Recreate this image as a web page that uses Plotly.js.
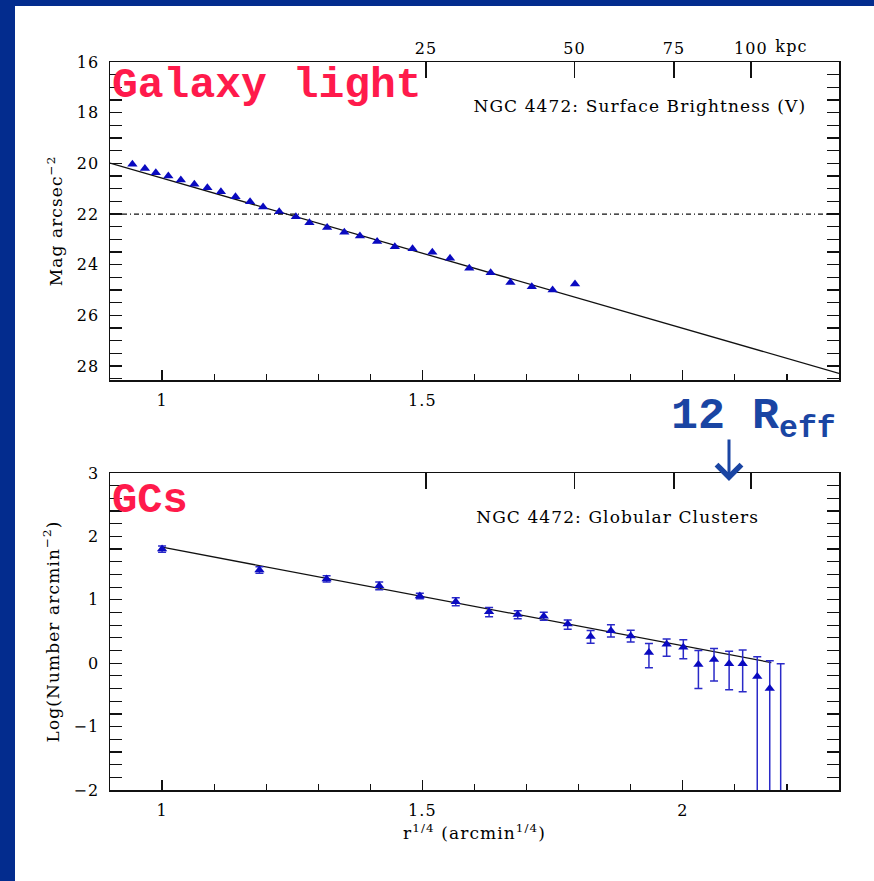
<!DOCTYPE html>
<html>
<head>
<meta charset="utf-8">
<script src="https://cdn.plot.ly/plotly-3.0.1.min.js"></script>
<style>
  html, body { margin: 0; padding: 0; background: #ffffff; }
  #chart { width: 874px; height: 881px; }
  #chart text[style*="Serif"] { letter-spacing: 1.1px; }
</style>
</head>
<body>
<div id="chart"></div>
<script>
// ---------------- data ----------------
// Galaxy light: V surface brightness vs r^(1/4)
const lightR  = [0.943,0.967,0.988,1.012,1.036,1.062,1.087,1.113,1.141,1.169,1.194,1.225,1.257,1.283,
                 1.317,1.350,1.380,1.413,1.447,1.481,1.519,1.553,1.590,1.631,1.669,1.710,1.750,1.793];
const lightMu = [20.04,20.20,20.37,20.50,20.66,20.82,20.96,21.12,21.32,21.52,21.72,21.91,22.11,22.34,
                 22.53,22.72,22.87,23.08,23.29,23.37,23.51,23.75,24.14,24.32,24.70,24.87,25.00,24.76];
const lightFitR  = [0.9, 2.3];
const lightFitMu = [19.99, 28.29];
const refLevel = 22;

// Globular clusters: log surface density vs r^(1/4)
const gcR     = [1.000,1.187,1.316,1.417,1.495,1.564,1.628,1.683,1.733,1.779,1.823,1.862,1.900,1.935,
                 1.969,2.001,2.030,2.060,2.089,2.115,2.143,2.167,2.188];
const gcLogN  = [1.80,1.47,1.33,1.22,1.06,0.97,0.81,0.77,0.74,0.62,0.42,0.51,0.43,0.17,
                 0.30,0.25,-0.02,0.06,-0.01,-0.01,-0.21,-0.40,-2.6];
const gcErrUp = [0.05,0.05,0.05,0.06,0.045,0.063,0.068,0.058,0.063,0.063,0.095,0.095,0.09,0.14,
                 0.08,0.12,0.22,0.17,0.20,0.22,0.31,0.44,2.59];
const gcErrDn = [0.05,0.05,0.05,0.06,0.045,0.063,0.079,0.068,0.063,0.084,0.105,0.095,0.095,0.24,
                 0.19,0.18,0.38,0.34,0.41,0.44,3.0,3.0,3.0];
const gcFitR    = [1.0, 2.17];
const gcFitLogN = [1.83, 0.01];

// Top (physical) axis in kpc
const kpcTicks = [25, 50, 75, 100];
const kpcTickText = ['25', '50', '75', '100'];
const kpcPerArcmin = 4.85;

// ---------------- helpers ----------------
const W = 874, H = 881;
const px = v => v / W;
const py = v => 1 - v / H;
const kpcPos = kpcTicks.map(k => Math.pow(k / kpcPerArcmin, 0.25));

const serif = 'DejaVu Serif, serif';
const mono = 'Liberation Mono, Courier New, monospace';
const ink = '#000000';
const markBlue = '#0a0ac0';
const errBlue = '#2a2ac8';

const traces = [
  { x: lightFitR, y: lightFitMu, xaxis: 'x', yaxis: 'y', mode: 'lines',
    line: { color: '#111111', width: 1.3 }, hoverinfo: 'skip' },
  { x: lightR, y: lightMu, xaxis: 'x', yaxis: 'y', mode: 'markers',
    marker: { symbol: 'triangle-up', size: 9, color: markBlue } },
  { x: kpcPos, y: kpcPos.map(() => null), xaxis: 'x3', yaxis: 'y', mode: 'markers', hoverinfo: 'skip' },
  { x: gcFitR, y: gcFitLogN, xaxis: 'x2', yaxis: 'y2', mode: 'lines',
    line: { color: '#111111', width: 1.3 }, hoverinfo: 'skip' },
  { x: gcR, y: gcLogN, xaxis: 'x2', yaxis: 'y2', mode: 'markers',
    marker: { symbol: 'triangle-up', size: 9, color: markBlue },
    error_y: { type: 'data', symmetric: false, array: gcErrUp, arrayminus: gcErrDn,
               color: errBlue, thickness: 1.5, width: 4 } },
  { x: kpcPos, y: kpcPos.map(() => null), xaxis: 'x4', yaxis: 'y2', mode: 'markers', hoverinfo: 'skip' }
];

const tickFont = { family: serif, size: 16, color: ink };
const titleFont = { family: serif, size: 17, color: ink };
const xDomain = [px(110), px(839)];

function xAxisBase(anchor) {
  return {
    domain: xDomain, anchor: anchor, range: [0.9, 2.3],
    tick0: 0, dtick: 0.5, ticks: 'inside', ticklen: 10, tickwidth: 1.3, tickcolor: '#111111',
    minor: { tick0: 0, dtick: 0.1, ticks: 'inside', ticklen: 6, tickwidth: 1.2, tickcolor: '#111111' },
    showline: true, linecolor: '#111111', linewidth: 1.5, mirror: true,
    showgrid: false, zeroline: false, tickfont: tickFont, ticklabelstandoff: 5
  };
}
function topAxis(overlay, anchor, showLabels) {
  return {
    overlaying: overlay, anchor: anchor, side: 'top', range: [0.9, 2.3],
    tickmode: 'array', tickvals: kpcPos, ticktext: kpcTickText, showticklabels: showLabels,
    ticks: 'inside', ticklen: 16, tickwidth: 1.3, tickcolor: '#111111',
    showline: false, showgrid: false, zeroline: false, tickfont: tickFont, ticklabelstandoff: 4
  };
}

const layout = {
  width: W, height: H,
  margin: { l: 0, r: 0, t: 0, b: 0 },
  paper_bgcolor: '#ffffff', plot_bgcolor: '#ffffff',
  showlegend: false,
  font: { family: serif, color: ink },
  xaxis: xAxisBase('y'),
  yaxis: {
    domain: [py(380), py(62)], anchor: 'x', range: [28.55, 16],
    tick0: 0, dtick: 2, ticks: 'inside', ticklen: 12, tickwidth: 1.3, tickcolor: '#111111',
    minor: { tick0: 0, dtick: 0.5, ticks: 'inside', ticklen: 6, tickwidth: 1.2, tickcolor: '#111111' },
    showline: true, linecolor: '#111111', linewidth: 1.5, mirror: 'allticks',
    showgrid: false, zeroline: false, tickfont: tickFont, ticklabelstandoff: 6,
    title: { text: 'Mag arcsec<sup>−2</sup>', font: titleFont, standoff: 12 }
  },
  xaxis3: topAxis('x', 'y', true),
  xaxis2: Object.assign(xAxisBase('y2'), {
    title: { text: 'r<sup>1/4</sup> (arcmin<sup>1/4</sup>)', font: titleFont, standoff: 8 }
  }),
  yaxis2: {
    domain: [py(790), py(473)], anchor: 'x2', range: [-2, 3],
    tick0: 0, dtick: 1, ticks: 'inside', ticklen: 12, tickwidth: 1.3, tickcolor: '#111111',
    minor: { tick0: 0, dtick: 0.2, ticks: 'inside', ticklen: 6, tickwidth: 1.2, tickcolor: '#111111' },
    showline: true, linecolor: '#111111', linewidth: 1.5, mirror: 'allticks',
    showgrid: false, zeroline: false, tickfont: tickFont, ticklabelstandoff: 6,
    title: { text: 'Log(Number arcmin<sup>−2</sup>)', font: titleFont, standoff: 12 }
  },
  xaxis4: topAxis('x2', 'y2', false),
  shapes: [
    { type: 'rect', xref: 'paper', yref: 'paper', x0: 0, x1: px(15), y0: 0, y1: 1,
      fillcolor: '#032c8e', line: { width: 0 }, layer: 'below' },
    { type: 'rect', xref: 'paper', yref: 'paper', x0: 0, x1: 1, y0: py(6), y1: 1,
      fillcolor: '#032c8e', line: { width: 0 }, layer: 'below' },
    { type: 'line', xref: 'paper', yref: 'y', x0: xDomain[0], x1: xDomain[1], y0: refLevel, y1: refLevel,
      line: { color: '#111111', width: 1.2, dash: '5px,3px,1px,3px' } }
  ],
  annotations: [
    { xref: 'paper', yref: 'paper', x: px(775), y: py(47), xanchor: 'left', yanchor: 'middle',
      text: 'kpc', showarrow: false, font: { family: serif, size: 16, color: ink } },
    { xref: 'paper', yref: 'paper', x: px(489), y: py(106), xanchor: 'left', yanchor: 'middle',
      text: 'NGC 4472: Surface Brightness (V)', showarrow: false,
      font: { family: serif, size: 17, color: ink } },
    { xref: 'paper', yref: 'paper', x: px(489), y: py(517), xanchor: 'left', yanchor: 'middle',
      text: 'NGC 4472: Globular Clusters', showarrow: false,
      font: { family: serif, size: 17, color: ink } },
    { xref: 'paper', yref: 'paper', x: px(110), y: py(86), xanchor: 'left', yanchor: 'middle',
      text: '<b>Galaxy light</b>', showarrow: false,
      font: { family: mono, size: 43, color: '#ff1a4b' } },
    { xref: 'paper', yref: 'paper', x: px(110), y: py(501), xanchor: 'left', yanchor: 'middle',
      text: '<b>GCs</b>', showarrow: false,
      font: { family: mono, size: 42, color: '#ff1a4b' } },
    { xref: 'paper', yref: 'paper', x: px(670), y: py(418), xanchor: 'left', yanchor: 'middle',
      text: '<b>12 R<sub>eff</sub></b>', showarrow: false, bgcolor: '#ffffff', borderpad: 0,
      font: { family: mono, size: 45, color: '#1a45a3' } },
    { xref: 'paper', yref: 'paper', x: px(729), y: py(481), text: ' ', showarrow: true,
      axref: 'pixel', ayref: 'pixel', ax: 0, ay: -50,
      arrowhead: 4, arrowsize: 1.6, arrowwidth: 3, arrowcolor: '#1a45a3', standoff: 0, startstandoff: 0 }
  ]
};

Plotly.newPlot('chart', traces, layout, { staticPlot: true, displayModeBar: false });
</script>
</body>
</html>
